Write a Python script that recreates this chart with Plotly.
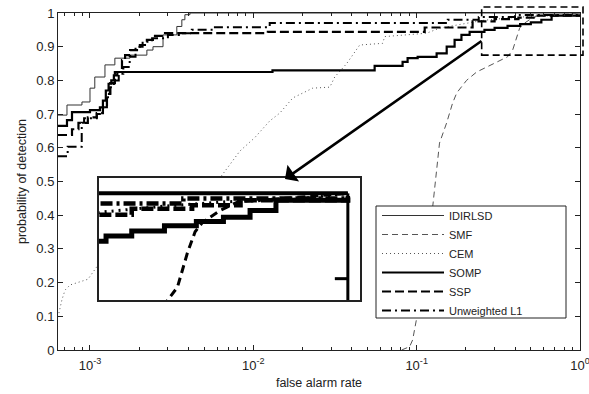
import math
import plotly.graph_objects as go

# ---------------- data (false alarm rate, probability of detection) ----------------
idirlsd_fa = [6.37e-4, 7.23e-4, 8.93e-4, 1.0e-3, 1.07e-3, 1.235e-3, 1.42e-3, 1.757e-3, 2.23e-3, 2.43e-3, 2.80e-3, 3.40e-3, 3.65e-3, 3.81e-3, 4.09e-3, 1.0]
idirlsd_pd = [0.697, 0.727, 0.736, 0.777, 0.810, 0.846, 0.866, 0.875, 0.890, 0.900, 0.935, 0.960, 0.980, 0.995, 1.0, 1.0]

smf_fa = [0.0809, 0.0906, 0.0945, 0.100, 0.1014, 0.1253, 0.129, 0.1325, 0.138, 0.1526, 0.166, 0.176, 0.202, 0.233, 0.268, 0.308, 0.360, 0.387, 0.409, 0.427, 0.445, 0.491, 0.542, 0.75, 1.0]
smf_pd = [0.0, 0.01, 0.03, 0.089, 0.11, 0.424, 0.484, 0.543, 0.614, 0.674, 0.733, 0.763, 0.800, 0.825, 0.840, 0.855, 0.870, 0.890, 0.930, 0.955, 0.966, 0.980, 0.990, 0.995, 1.0]

cem_fa = [6.37e-4, 6.74e-4, 7.04e-4, 7.55e-4, 9.72e-4, 1.15e-3, 1.53e-3, 2.68e-3, 4.7e-3, 6.23e-3, 7.18e-3, 8.26e-3, 0.0102, 0.01262, 0.01452, 0.01745, 0.0231, 0.0294, 0.0315, 0.0373, 0.0448, 0.0619, 0.0637, 0.115, 0.138, 0.253, 0.36, 0.5, 0.75, 1.0]
cem_pd = [0.098, 0.150, 0.178, 0.193, 0.210, 0.260, 0.300, 0.380, 0.450, 0.510, 0.550, 0.590, 0.630, 0.680, 0.703, 0.748, 0.777, 0.780, 0.810, 0.850, 0.905, 0.910, 0.930, 0.940, 0.955, 0.978, 0.985, 0.990, 0.993, 1.0]

somp_fa = [6.37e-4, 7.23e-4, 7.76e-4, 1.0e-3, 1.15e-3, 1.2e-3, 1.25e-3, 1.3e-3, 1.35e-3, 1.4e-3, 1.47e-3, 0.0131, 0.0553, 0.082, 0.088, 0.1014, 0.1325, 0.1527, 0.1707, 0.188, 0.211, 0.26, 0.30, 0.36, 0.43, 0.50, 0.58, 0.67, 1.0]
somp_pd = [0.665, 0.682, 0.706, 0.712, 0.720, 0.740, 0.770, 0.790, 0.800, 0.815, 0.825, 0.830, 0.843, 0.855, 0.866, 0.870, 0.880, 0.900, 0.920, 0.935, 0.944, 0.950, 0.956, 0.962, 0.967, 0.972, 0.980, 0.992, 0.995]

ssp_fa = [6.37e-4, 7.76e-4, 8.5e-4, 9.7e-4, 1.1e-3, 1.2e-3, 1.27e-3, 1.33e-3, 1.42e-3, 1.57e-3, 1.64e-3, 1.76e-3, 2.02e-3, 2.23e-3, 2.5e-3, 2.88e-3, 0.01227, 0.112, 0.22, 0.30, 0.42, 0.55, 1.0]
ssp_pd = [0.638, 0.655, 0.674, 0.690, 0.703, 0.720, 0.760, 0.792, 0.825, 0.860, 0.875, 0.890, 0.905, 0.920, 0.932, 0.940, 0.944, 0.957, 0.975, 0.982, 0.986, 0.992, 0.995]

l1_fa = [6.37e-4, 7.3e-4, 8.9e-4, 9.2e-4, 1.1e-3, 1.2e-3, 1.27e-3, 1.33e-3, 1.4e-3, 1.5e-3, 1.6e-3, 1.75e-3, 1.9e-3, 2.1e-3, 2.4e-3, 3.0e-3, 3.5e-3, 4.2e-3, 5.65e-3, 0.0126, 0.155, 0.24, 0.40, 1.0]
l1_pd = [0.575, 0.603, 0.674, 0.688, 0.700, 0.720, 0.750, 0.780, 0.800, 0.820, 0.840, 0.870, 0.900, 0.915, 0.925, 0.935, 0.940, 0.950, 0.958, 0.970, 0.980, 0.988, 0.994, 0.997]

names = ["IDIRLSD", "SMF", "CEM", "SOMP", "SSP", "Unweighted L1"]
x_tickvals = [1e-3, 1e-2, 1e-1, 1e0]
x_ticktext = ["10<sup>-3</sup>", "10<sup>-2</sup>", "10<sup>-1</sup>", "10<sup>0</sup>"]

series = [
    (idirlsd_fa, idirlsd_pd, dict(color="#333", width=1.0, dash="solid"), dict(width=2.5, dash="solid"), "hv"),
    (smf_fa, smf_pd, dict(color="#555", width=1.0, dash="6px,4px"), dict(width=3, dash="8px,5px"), "linear"),
    (cem_fa, cem_pd, dict(color="#555", width=1.0, dash="1px,3px"), dict(width=3, dash="2px,5px"), "linear"),
    (somp_fa, somp_pd, dict(color="black", width=2.2, dash="solid"), dict(width=5, dash="solid"), "hv"),
    (ssp_fa, ssp_pd, dict(color="black", width=2.2, dash="9px,4px"), dict(width=4.5, dash="12px,4px"), "hv"),
    (l1_fa, l1_pd, dict(color="black", width=2.0, dash="9px,4px,2px,4px"), dict(width=4.5, dash="12px,4px,3px,4px"), "hv"),
]

XMIN = 6.37e-4
xr = [math.log10(XMIN), 0.0]
inset_xr = [math.log10(0.25), math.log10(1.07)]
inset_yr = [0.875, 1.018]

fig = go.Figure()
for (fa, pd_, main_line, inset_line, shape), nm in zip(series, names):
    fig.add_trace(go.Scatter(x=fa, y=pd_, mode="lines", name=nm, line=dict(shape=shape, **main_line),
                             xaxis="x", yaxis="y"))
for (fa, pd_, main_line, inset_line, shape), nm in zip(series, names):
    fig.add_trace(go.Scatter(x=fa, y=pd_, mode="lines", name=nm, showlegend=False,
                             line=dict(shape=shape, color="black", **inset_line),
                             xaxis="x2", yaxis="y2", hoverinfo="skip"))

font = "Liberation Sans, Arial, sans-serif"


def xpaper(v):
    return (math.log10(v) - xr[0]) / (xr[1] - xr[0])


fig.update_layout(
    width=589, height=394,
    margin=dict(l=58, r=9, t=13, b=44, autoexpand=False),
    paper_bgcolor="white", plot_bgcolor="white",
    font=dict(family=font, size=12, color="#222"),
    xaxis=dict(type="log", range=xr, domain=[0, 1],
               tickvals=x_tickvals, ticktext=x_ticktext,
               ticks="inside", ticklen=5, tickcolor="#222",
               minor=dict(ticks="inside", ticklen=3, dtick="D1", tickcolor="#222", showgrid=False),
               showline=True, linecolor="#222", linewidth=1, mirror="ticks",
               showgrid=False, zeroline=False, automargin=False,
               ticklabeloverflow="allow", ticklabelstandoff=3,
               tickfont=dict(size=13),
               title=dict(text="false alarm rate", font=dict(size=12.5), standoff=6)),
    yaxis=dict(range=[0, 1], dtick=0.1, domain=[0, 1],
               ticks="inside", ticklen=5, tickcolor="#222",
               showline=True, linecolor="#222", linewidth=1, mirror="ticks",
               showgrid=False, zeroline=False, automargin=False,
               ticklabeloverflow="allow",
               tickfont=dict(size=13),
               title=dict(text="probability of detection", font=dict(size=12.5), standoff=6)),
    xaxis2=dict(type="log", range=inset_xr, domain=[(99 - 58) / 522, (360 - 58) / 522], anchor="y2",
                showticklabels=False, ticks="", showgrid=False, zeroline=False,
                showline=True, linecolor="#222", linewidth=1.5, mirror=True),
    yaxis2=dict(range=inset_yr, domain=[(350 - 300) / 337, (350 - 178) / 337], anchor="x2",
                showticklabels=False, ticks="", showgrid=False, zeroline=False,
                showline=True, linecolor="#222", linewidth=1.5, mirror=True),
    legend=dict(x=(377 - 58) / 522, y=(350 - 201) / 337, xanchor="left", yanchor="top",
                bgcolor="rgba(0,0,0,0)", borderwidth=0,
                font=dict(size=11, color="#222"), itemwidth=62, tracegroupgap=0),
    showlegend=True,
)

# legend frame (opaque box behind the legend entries)
fig.add_shape(type="rect", xref="paper", yref="paper", layer="above",
              x0=(376 - 58) / 522, x1=(566 - 58) / 522, y0=(350 - 318) / 337, y1=(350 - 206) / 337,
              line=dict(color="#222", width=1), fillcolor="white")

# axis frame lines inside the inset (main plot's top edge and right edge)
fig.add_shape(type="line", xref="x2", yref="y2", x0=0.25, x1=1.0, y0=1.0, y1=1.0,
              line=dict(color="black", width=4))
fig.add_shape(type="line", xref="x2", yref="y2", x0=1.0, x1=1.0, y0=0.875, y1=1.0,
              line=dict(color="black", width=3))
fig.add_shape(type="line", xref="x2", yref="y2", x0=0.93, x1=1.0, y0=0.9, y1=0.9,
              line=dict(color="black", width=3))

# dashed zoom rectangle
fig.add_shape(type="rect", xref="paper", yref="paper",
              x0=xpaper(0.25), x1=(583 - 58) / 522, y0=0.875, y1=(350 - 7) / 337,
              line=dict(color="black", width=1.6, dash="7px,4px"))

# arrow from zoom rectangle to inset
fig.add_annotation(xref="paper", yref="paper", x=(285 - 58) / 522, y=(350 - 179) / 337,
                   ax=483 - 285, ay=40 - 179, axref="pixel", ayref="pixel",
                   text="", showarrow=True, arrowhead=1, arrowsize=1.3, arrowwidth=2.6, arrowcolor="black")

fig.write_html("out.html")
